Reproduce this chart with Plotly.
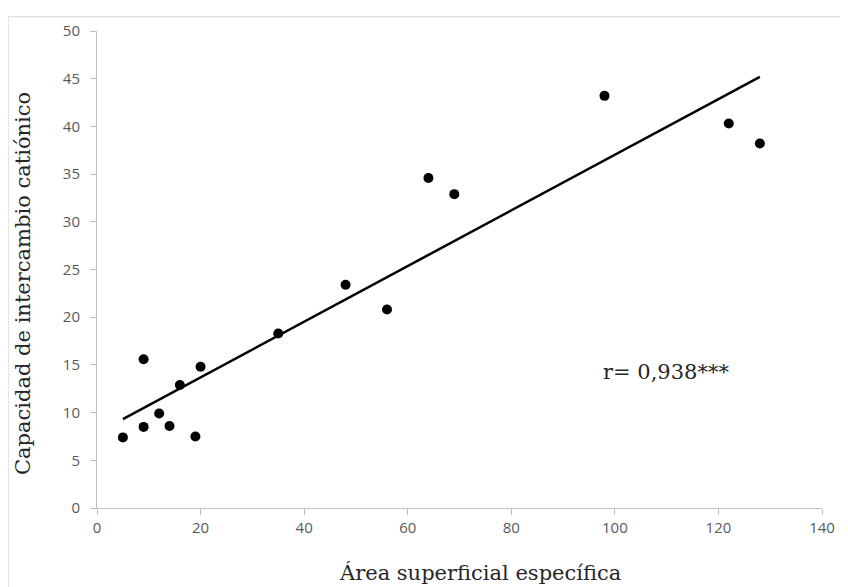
import numpy as np
import plotly.graph_objects as go

# Data
area = [5, 9, 9, 12, 14, 16, 19, 20, 35, 48, 56, 64, 69, 98, 122, 128]
cic = [7.4, 15.6, 8.5, 9.9, 8.6, 12.9, 7.5, 14.8, 18.3, 23.4, 20.8, 34.6, 32.9, 43.2, 40.3, 38.2]
x_ticks = [0, 20, 40, 60, 80, 100, 120, 140]
y_ticks = [0, 5, 10, 15, 20, 25, 30, 35, 40, 45, 50]
x_title = "Área superficial específica"
y_title = "Capacidad de intercambio catiónico"
r_label = "r= 0,938***"

slope, intercept = np.polyfit(area, cic, 1)
fit_x = [min(area), max(area)]
fit_y = [slope * v + intercept for v in fit_x]

OFF = 8  # page body margin
W, H = 848 - OFF, 587 - OFF
L, R, T, B = 97.3 - OFF, 822.3 - OFF, 24 - OFF, 508 - OFF
pw, ph = R - L, B - T

def px(x):
    return (x - OFF - L) / pw

def py(y):
    return (B - (y - OFF)) / ph

fig = go.Figure()
fig.add_trace(go.Scatter(x=fit_x, y=fit_y, mode="lines",
                         line=dict(color="black", width=2.5),
                         hoverinfo="skip", showlegend=False))
fig.add_trace(go.Scatter(x=area, y=cic, mode="markers",
                         marker=dict(color="black", size=10),
                         showlegend=False))

tickfont = dict(family="Open Sans", size=15, color="#595959")
axis_common = dict(showgrid=False, zeroline=False, showline=True,
                   linecolor="#bfbfbf", linewidth=1, ticks="outside",
                   ticklen=6, tickcolor="#bfbfbf", tickfont=tickfont)

fig.update_layout(
    width=W, height=H,
    margin=dict(l=L, r=W - R, t=T, b=H - B, pad=0),
    paper_bgcolor="white", plot_bgcolor="white",
    xaxis=dict(range=[0, 140], tickvals=x_ticks, **axis_common),
    yaxis=dict(range=[0, 50], tickvals=y_ticks, ticklabelstandoff=7, **axis_common),
    showlegend=False,
)

titlefont = dict(family="DejaVu Serif", size=21, color="#262626")
fig.add_annotation(text=x_title, xref="paper", yref="paper",
                   x=px(480), y=py(574), xanchor="center", yanchor="middle",
                   showarrow=False, font=titlefont)
fig.add_annotation(text=y_title, xref="paper", yref="paper",
                   x=px(24), y=py(280), xanchor="center", yanchor="middle",
                   textangle=-90, showarrow=False, font=titlefont)
fig.add_annotation(text=r_label, xref="paper", yref="paper",
                   x=px(601.7), y=py(370), xanchor="left", yanchor="middle",
                   showarrow=False, font=dict(family="DejaVu Serif", size=21, color="#262626"))

# outer chart border
fig.add_shape(type="rect", xref="paper", yref="paper",
              x0=px(8.5), x1=px(847), y0=py(600), y1=py(9.5),
              line=dict(color="#d9d9d9", width=1), layer="below")

fig.write_html("out.html")
